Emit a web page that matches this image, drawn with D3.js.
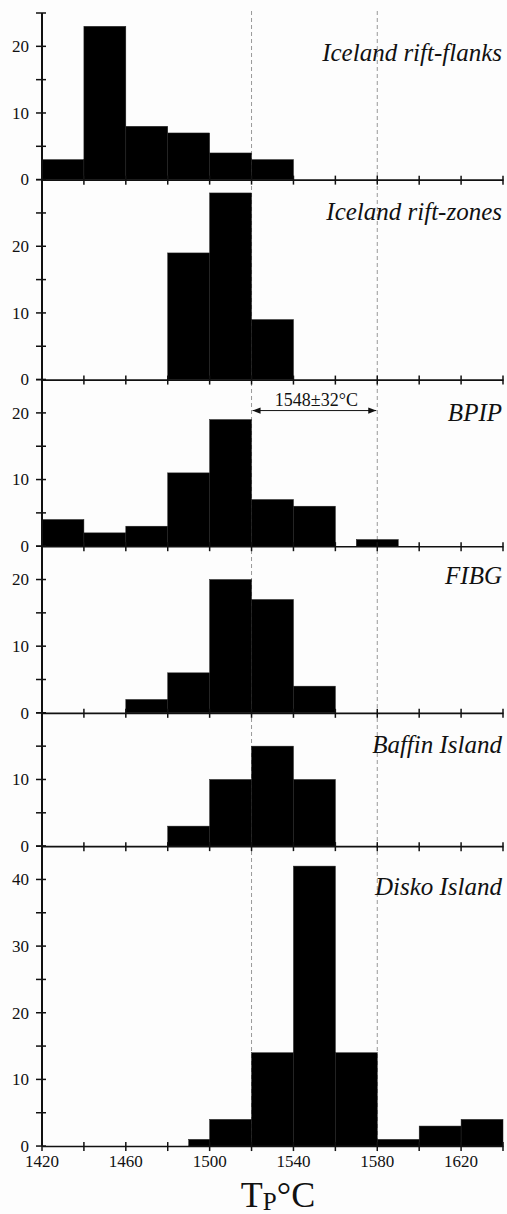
<!DOCTYPE html>
<html>
<head>
<meta charset="utf-8">
<script src="https://cdn.jsdelivr.net/npm/d3@7"></script>
<style>
html,body{margin:0;padding:0;background:#fdfdfd;}
svg{display:block;}
text{font-family:"Liberation Serif","DejaVu Serif",serif;fill:#111;}
</style>
</head>
<body>
<svg id="chart" width="507" height="1214"></svg>
<script>
// ---- data ----
const panelNames = ["Iceland rift-flanks", "Iceland rift-zones", "BPIP", "FIBG", "Baffin Island", "Disko Island"];
const panelMax = [25, 30, 25, 25, 20, 45];
const binWidth = 20;
const riftFlanksStarts = [1420, 1440, 1460, 1480, 1500, 1520];
const riftFlanksCounts = [3, 23, 8, 7, 4, 3];
const riftZonesStarts = [1480, 1500, 1520];
const riftZonesCounts = [19, 28, 9];
const bpipStarts = [1420, 1440, 1460, 1480, 1500, 1520, 1540, 1570];
const bpipCounts = [4, 2, 3, 11, 19, 7, 6, 1];
const fibgStarts = [1460, 1480, 1500, 1520, 1540];
const fibgCounts = [2, 6, 20, 17, 4];
const baffinStarts = [1480, 1500, 1520, 1540];
const baffinCounts = [3, 10, 15, 10];
const diskoStarts = [1490, 1500, 1520, 1540, 1560, 1580, 1600, 1620];
const diskoCounts = [1, 4, 14, 42, 14, 1, 3, 4];
const xTicks = [1420, 1440, 1460, 1480, 1500, 1520, 1540, 1560, 1580, 1600, 1620, 1640];
const xTickLabels = [1420, 1460, 1500, 1540, 1580, 1620];
const refLines = [1520, 1580];
const annotationText = "1548±32°C";

const panelStarts = [riftFlanksStarts, riftZonesStarts, bpipStarts, fibgStarts, baffinStarts, diskoStarts];
const panelCounts = [riftFlanksCounts, riftZonesCounts, bpipCounts, fibgCounts, baffinCounts, diskoCounts];

// ---- layout ----
const svg = d3.select("#chart");
const xLeft = 42, xRight = 503;
const yTop = 13, unitPx = 6.665;
const labelDy = [48, 40, 41, 38, 40, 49];

const x = d3.scaleLinear().domain([1420, 1640]).range([xLeft, xRight]);

let cur = yTop;
const panels = panelMax.map((m, i) => {
  const top = cur, bottom = cur + m * unitPx;
  cur = bottom;
  return {i, top, bottom, max: m};
});
const plotBottom = cur;

// dashed reference lines (behind)
svg.append("g").selectAll("line").data(refLines).join("line")
  .attr("x1", d => x(d)).attr("x2", d => x(d))
  .attr("y1", yTop - 2).attr("y2", plotBottom)
  .attr("stroke", "#999").attr("stroke-width", 1)
  .attr("stroke-dasharray", "4,3");

panels.forEach(p => {
  const y = d3.scaleLinear().domain([0, p.max]).range([p.bottom, p.top]);
  const g = svg.append("g");
  const bins = panelStarts[p.i].map((s, k) => ({s, c: panelCounts[p.i][k]}));
  g.selectAll("rect").data(bins).join("rect")
    .attr("x", d => x(d.s))
    .attr("width", d => x(d.s + binWidth) - x(d.s))
    .attr("y", d => y(d.c))
    .attr("height", d => y(0) - y(d.c))
    .attr("fill", "#000")
    .attr("stroke", "#222").attr("stroke-width", 0.5);

  const yt = d3.range(0, p.max + 0.1, 5);
  g.selectAll("line.yt").data(yt).join("line")
    .attr("x1", xLeft - 6).attr("x2", xLeft + 4)
    .attr("y1", d => y(d)).attr("y2", d => y(d))
    .attr("stroke", "#111").attr("stroke-width", 1.5);
  const yl = d3.range(0, p.max, 10);
  g.selectAll("text.yl").data(yl).join("text")
    .attr("x", 29).attr("y", d => y(d)).attr("dy", "0.34em")
    .attr("text-anchor", "end").style("font-size", "17px")
    .text(d => d);

  const xa = d3.axisBottom(x).tickValues(xTicks).tickSize(0).tickFormat("");
  const ax = g.append("g").attr("transform", `translate(0,${p.bottom})`).call(xa);
  ax.select(".domain").attr("stroke", "#111").attr("stroke-width", 1.6);
  ax.selectAll(".tick line").remove();
  g.selectAll("line.xt").data(xTicks).join("line")
    .attr("x1", d => x(d)).attr("x2", d => x(d))
    .attr("y1", p.bottom - 4).attr("y2", p.bottom + 5)
    .attr("stroke", "#111").attr("stroke-width", 1.5);

  g.append("text")
    .attr("x", 502).attr("y", p.top + labelDy[p.i])
    .attr("text-anchor", "end")
    .style("font-size", "25px").style("font-style", "italic")
    .text(panelNames[p.i]);
});

svg.append("line").attr("x1", xLeft).attr("x2", xLeft)
  .attr("y1", yTop).attr("y2", plotBottom)
  .attr("stroke", "#111").attr("stroke-width", 2);

svg.append("g").selectAll("text").data(xTickLabels).join("text")
  .attr("x", d => x(d)).attr("y", plotBottom + 21)
  .attr("text-anchor", "middle").style("font-size", "17px")
  .text(d => d);

const title = svg.append("text")
  .attr("x", 278).attr("y", 1207)
  .attr("text-anchor", "middle").style("font-size", "36px");
title.append("tspan").text("T");
title.append("tspan").attr("dy", 3).style("font-size", "25px").text("P");
title.append("tspan").attr("dy", -3).text("°C");

const defs = svg.append("defs");
["s", "e"].forEach(k => {
  defs.append("marker").attr("id", "arr" + k)
    .attr("viewBox", "0 0 10 10").attr("refX", k === "e" ? 10 : 0).attr("refY", 5)
    .attr("markerWidth", 10).attr("markerHeight", 8).attr("markerUnits", "userSpaceOnUse")
    .attr("orient", "auto")
    .append("path")
    .attr("d", k === "e" ? "M0,1 L10,5 L0,9 Z" : "M10,1 L0,5 L10,9 Z")
    .attr("fill", "#111");
});
const pB = panels[2];
svg.append("line")
  .attr("x1", x(refLines[0]) + 1).attr("x2", x(refLines[1]) - 1)
  .attr("y1", pB.top + 31).attr("y2", pB.top + 31)
  .attr("stroke", "#111").attr("stroke-width", 1)
  .attr("marker-start", "url(#arrs)").attr("marker-end", "url(#arre)");
svg.append("text")
  .attr("x", (x(refLines[0]) + x(refLines[1])) / 2 + 2).attr("y", pB.top + 26)
  .attr("text-anchor", "middle").style("font-size", "18px")
  .text(annotationText);
</script>
</body>
</html>
